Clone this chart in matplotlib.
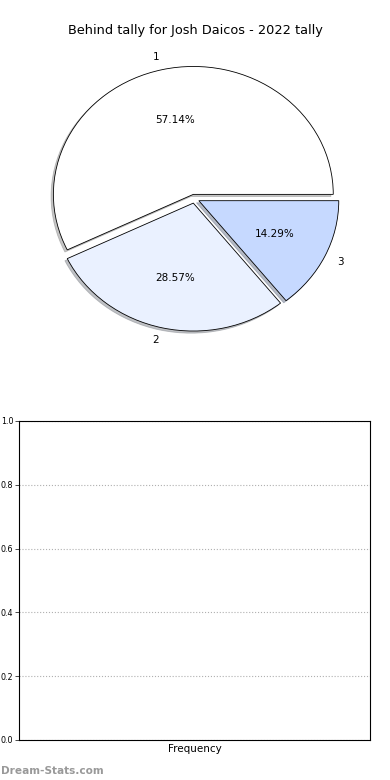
import matplotlib
matplotlib.use("Agg")
import matplotlib.pyplot as plt

# datos del grafico
etiquetas = ["1", "2", "3"]
valores = [4, 2, 1]
colores = ["#ffffff", "#eaf1ff", "#c6d9ff"]
titulo = "Behind tally for Josh Daicos - 2022 tally"
ticks_y = [0.0, 0.2, 0.4, 0.6, 0.8, 1.0]

fig = plt.figure(figsize=(3.9, 7.8), dpi=100)

# pie
ax1 = fig.add_axes([0.0500, 0.5402, 0.897, 0.41])
ax1.pie(valores, labels=etiquetas, colors=colores, autopct="%1.2f%%",
        explode=[0.035] * len(valores),
        shadow={"ox": -0.012, "oy": -0.012, "shade": 0.45},
        startangle=0, labeldistance=1.1, pctdistance=0.6,
        wedgeprops={"edgecolor": "black", "linewidth": 0.6},
        textprops={"fontsize": 7.5})
ax1.set_aspect("auto")
ax1.set_xlim(-1.25, 1.25)
ax1.set_ylim(-1.25, 1.25)
fig.text(0.5, 0.961, titulo, ha="center", va="center", fontsize=9.3)

# histograma vacio
ax2 = fig.add_axes([0.0487, 0.0513, 0.9, 0.409])
ax2.set_ylim(0, 1)
ax2.set_yticks(ticks_y)
ax2.set_yticklabels([f"{t:.1f}" for t in ticks_y], fontsize=5.8)
ax2.set_xticks([])
ax2.yaxis.grid(True, linestyle=":", color="#b0b0b0", linewidth=0.8)
ax2.tick_params(axis="y", length=3, width=0.5, pad=1)
ax2.set_xlabel("Frequency", fontsize=7.5, labelpad=3)
for s in ax2.spines.values():
    s.set_linewidth(0.8)

fig.text(0.002, 0.012, "Dream-Stats.com", fontsize=7.6, color="#999999",
         fontweight="bold", ha="left", va="center")

fig.savefig("out.png", dpi=100)
